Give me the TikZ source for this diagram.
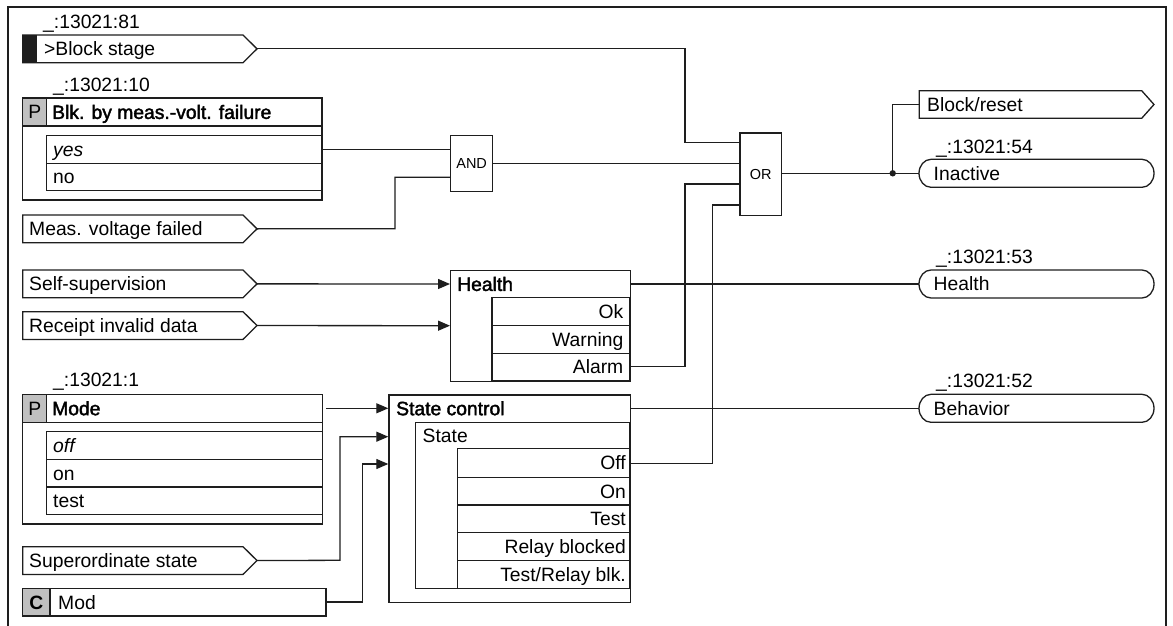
\documentclass[tikz,border=0pt]{standalone}
\usepackage{fontspec}
\setmainfont{Liberation Sans}
\newfontfamily\semib{Liberation Sans}[FakeBold=2]
\usetikzlibrary{arrows.meta}
\definecolor{ln}{RGB}{30,30,30}
\definecolor{cellgray}{RGB}{192,192,192}
\tikzset{
  box/.style={draw=ln, line width=1.3pt},
  wire/.style={draw=ln, line width=1.3pt},
  arr/.style={wire, -{Triangle[length=12pt,width=10pt]}},
  txt/.style={inner sep=0pt, text height=13.8pt, text depth=0pt, font=\fontsize{19.3}{22}\selectfont},
  hd/.style={inner sep=0pt, text height=13.8pt, text depth=0pt, font=\semib\fontsize{19.3}{22}\selectfont},
  gate/.style={box, inner sep=0pt, anchor=north west, text height=10.4pt, text depth=0pt, font=\fontsize{14.5}{17}\selectfont},
}
% input signal shape: name, top y, text
\newcommand\inshape[3]{%
  \draw[box] (22.7,#2) -- (243,#2) -- (257,#2+13.85) -- (243,#2+27.7) -- (22.7,#2+27.7) -- cycle;
  \node[txt,anchor=west] (#1) at (29,#2+13.85) {#3};
  \coordinate (#1-o) at (257,#2+13.85);}
% rounded output shape: name, top y, text
\newcommand\outround[3]{%
  \draw[box] (931,#2) -- (1142,#2) arc[start angle=-90,end angle=90,x radius=12,y radius=14]
     -- (931,#2+28) arc[start angle=90,end angle=270,x radius=12,y radius=14] -- cycle;
  \node[txt,anchor=west] (#1) at (933.5,#2+14) {#3};
  \coordinate (#1-i) at (919,#2+14);}
\begin{document}
\begin{tikzpicture}[x=1pt,y=-1pt]
\useasboundingbox (0,0) rectangle (1173,626);
\fill[white] (0,0) rectangle (1173,626);
% frame
\draw[draw=ln,line width=1.6pt] (8,640) -- (8,7) -- (1166,7) -- (1166,640);

% ---------- Block stage
\node[txt,anchor=west] (lbl81) at (43,21.5) {\_:13021:81};
\draw[box] (22.7,35) -- (243,35) -- (257,48.85) -- (243,62.7) -- (22.7,62.7) -- cycle;
\fill[ln] (22.7,35) rectangle (36.7,62.7);
\node[txt,anchor=west] (blkst) at (44,48.85) {>Block stage};
\coordinate (blkst-o) at (257,48.85);

% ---------- Parameter Blk. by meas.-volt. failure
\node[txt,anchor=west] (lbl10) at (53,84.5) {\_:13021:10};
\draw[box] (22.7,98) rectangle (322,200);
\fill[cellgray] (22.7,98) rectangle (46.7,126);
\draw[box] (22.7,98) rectangle (46.7,126);
\draw[box] (22.7,126) -- (322,126);
\node[txt] (p1) at (34.7,112) {P};
\node[hd,anchor=west] (blkpar) at (52,112) {Blk. by meas.-volt. failure};
\draw[box] (46.7,135.7) rectangle (322,190.7);
\draw[box] (46.7,163.3) -- (322,163.3);
\node[txt,anchor=west] (yes) at (53,149.5) {\itshape yes};
\node[txt,anchor=west] (no) at (53,177) {no};
\coordinate (yes-o) at (322,149.5);

% ---------- Meas. voltage failed
\inshape{mvf}{215}{Meas. voltage failed}

% ---------- AND / OR
\node[gate, minimum width=42pt, minimum height=55.7pt] (and) at (450,135) {AND};
\coordinate (and-i1) at (450,149.5);
\coordinate (and-i2) at (450,177.3);
\coordinate (and-o) at (492,163.3);
\node[gate, minimum width=41.7pt, minimum height=82.7pt] (or) at (739.3,132.3) {OR};
\coordinate (or-i1) at (739.3,142.7);
\coordinate (or-i2) at (739.3,163.3);
\coordinate (or-i3) at (739.3,184);
\coordinate (or-i4) at (739.3,205);
\coordinate (or-o) at (781,173.3);

% ---------- Health inputs
\inshape{selfsup}{270}{Self-supervision}
\inshape{rid}{311.7}{Receipt invalid data}

% ---------- Health block
\node[box, anchor=north west, inner sep=0pt, minimum width=180pt, minimum height=110.7pt] (hb) at (450,270) {};
\draw[box] (492,297.7) rectangle (630,380.7);
\draw[box] (492,325.7) -- (630,325.7);
\draw[box] (492,353.3) -- (630,353.3);
\node[hd,anchor=west] (hbt) at (457,284) {Health};
\node[txt,anchor=east] (ok) at (623.5,311.7) {Ok};
\node[txt,anchor=east] (warn) at (623.5,339.5) {Warning};
\node[txt,anchor=east] (alarm) at (623.5,367) {Alarm};
\coordinate (hb-i1) at (450,284);
\coordinate (hb-i2) at (450,325.7);
\coordinate (hb-o) at (630,284);
\coordinate (alarm-o) at (630,366.7);

% ---------- Parameter Mode
\node[txt,anchor=west] (lbl1) at (53,379.7) {\_:13021:1};
\draw[box] (22.7,394.3) rectangle (322.3,524);
\fill[cellgray] (22.7,394.3) rectangle (46.7,422.3);
\draw[box] (22.7,394.3) rectangle (46.7,422.3);
\draw[box] (22.7,422.3) -- (322.3,422.3);
\node[txt] (p2) at (34.7,408.3) {P};
\node[hd,anchor=west] (mode) at (52,408.3) {Mode};
\draw[box] (46.7,431.7) rectangle (322.3,514.3);
\draw[box] (46.7,459.3) -- (322.3,459.3);
\draw[box] (46.7,487) -- (322.3,487);
\node[txt,anchor=west] (off) at (53,445.5) {\itshape off};
\node[txt,anchor=west] (on) at (53,473.15) {on};
\node[txt,anchor=west] (test) at (53,500.65) {test};
\coordinate (mode-o) at (326,408.3);

% ---------- Superordinate state
\inshape{sup}{546.7}{Superordinate state}

% ---------- C Mod
\draw[box] (22.7,588.3) rectangle (326,616);
\fill[cellgray] (22.7,588.3) rectangle (50,616);
\draw[box] (22.7,588.3) rectangle (50,616);
\node[txt,font=\bfseries\fontsize{19.3}{22}\selectfont] (c) at (36.3,602.2) {C};
\node[txt,anchor=west] (mod) at (58,602.2) {Mod};
\coordinate (mod-o) at (326,602);

% ---------- State control
\node[box, anchor=north west, inner sep=0pt, minimum width=241.7pt, minimum height=207.4pt] (sc) at (388.3,394.3) {};
\draw[box] (415.7,422.3) rectangle (630,588.3);
\draw[box] (457.3,448.3) rectangle (630,588.3);
\foreach \yy in {477.3,505,532.7,560.3} \draw[box] (457.3,\yy) -- (630,\yy);
\node[hd,anchor=west] (sct) at (396,408.3) {State control};
\node[txt,anchor=west] (state) at (422.5,435.3) {State};
\node[txt,anchor=east] (soff) at (626,462.8) {Off};
\node[txt,anchor=east] (son) at (626,491.15) {On};
\node[txt,anchor=east] (stest) at (626,518.85) {Test};
\node[txt,anchor=east] (srb) at (626,546.5) {Relay blocked};
\node[txt,anchor=east] (strb) at (626,574.3) {Test/Relay blk.};
\coordinate (sc-i1) at (388.3,408.3);
\coordinate (sc-i2) at (388.3,436.7);
\coordinate (sc-i3) at (388.3,464);
\coordinate (sc-o) at (630,408.3);
\coordinate (soff-o) at (630,463.3);

% ---------- Outputs
\draw[box] (919.3,90.7) -- (1141.7,90.7) -- (1154,104.5) -- (1141.7,118.3) -- (919.3,118.3) -- cycle;
\node[txt,anchor=west] (blkreset) at (927,104.5) {Block/reset};
\coordinate (blkreset-i) at (919.3,104.5);

\node[txt,anchor=west] (lbl54) at (936,146.7) {\_:13021:54};
\outround{inactive}{159.3}{Inactive}
\node[txt,anchor=west] (lbl53) at (936,256.7) {\_:13021:53};
\outround{health}{270}{Health}
\node[txt,anchor=west] (lbl52) at (936,380.8) {\_:13021:52};
\outround{behav}{394.3}{Behavior}

% ---------- Connectors
\draw[wire] (blkst-o) -- (685,48.85) |- (or-i1);
\draw[wire] (yes-o) -- (and-i1);
\draw[wire] (mvf-o) -- (395,228.7) |- (and-i2);
\draw[wire] (and-o) -- (or-i2);
\draw[wire] (alarm-o) -- (685,366.7) |- (or-i3);
\draw[wire] (soff-o) -- (712.7,463.3) |- (or-i4);
\coordinate (junc) at (892.7,173.3);
\draw[wire] (or-o) -- (junc) -- (inactive-i);
\draw[wire] (junc) |- (blkreset-i);
\fill[ln] (junc) circle (3.2pt);
\draw[arr] (selfsup-o) -- (hb-i1);
\draw[arr] (rid-o) -- (hb-i2);
\draw[wire] (hb-o) -- (health-i);
\draw[arr] (mode-o) -- (sc-i1);
\draw[arr] (sup-o) -- (340,560.3) |- (sc-i2);
\draw[arr] (mod-o) -- (362.7,602) |- (sc-i3);
\draw[wire] (sc-o) -- (behav-i);
\end{tikzpicture}
\end{document}
